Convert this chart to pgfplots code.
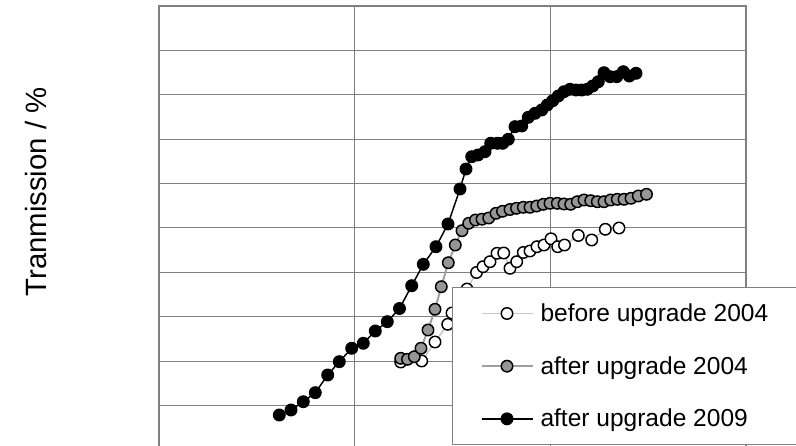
\documentclass[border=0pt]{standalone}
\usepackage{fontspec}
\setmainfont{Liberation Sans}
\usepackage{pgfplots}
\pgfplotsset{compat=1.18}
\definecolor{gridgray}{RGB}{128,128,128}
\definecolor{markgray}{RGB}{150,150,150}
\definecolor{linegray}{RGB}{160,160,160}
\definecolor{lightline}{RGB}{200,200,200}

\begin{document}
\begin{tikzpicture}
\useasboundingbox (0,0) rectangle (597pt,334.5pt);
\begin{axis}[
  at={(119.25pt,-3pt)}, anchor=south west,
  scale only axis, width=440.25pt, height=333pt,
  xmin=0, xmax=587, ymin=0, ymax=100,
  xtick={195.7,391.3}, ytick={10,20,...,90},
  xticklabels={}, yticklabels={},
  tick style={draw=none},
  grid=major, major grid style={gridgray, line width=0.75pt},
  axis line style={gridgray, line width=1.2pt},
  legend style={at={(axis cs:293,36.71)}, anchor=north west, draw=gridgray, line width=0.75pt, fill=white,
    inner xsep=21pt, inner ysep=11pt, column sep=5.25pt, row sep=22.5pt,
    font=\fontsize{18.4}{22}\selectfont,
    nodes={inner sep=0pt, text height=14.5pt, text depth=2.5pt}},
  legend cell align=left,
  legend image code/.code={\draw[mark repeat=2,mark phase=2,#1] plot coordinates {(0pt,0pt) (19.125pt,0pt) (38.25pt,0pt)};},
]
\addplot[color=lightline, line width=1.2pt, mark=*, mark size=4.3pt,
  mark options={draw=black, fill=white, line width=1.1pt, solid}] coordinates {
(241.7,19.82) (262.7,20.05) (276,24.32) (288.7,28.31) (293,30.86) (300.5,33.33) (308,36.26)
(317.5,39.98) (324,41.28) (331,42.41) (338,44.30) (344.7,44.37) (351,40.92) (357.7,42.41)
(364.3,44.48) (371,44.82) (378,45.79) (385,46.17) (392,47.57) (398.7,45.79) (405.5,46.17)
(419.3,48.31) (432.7,47.30) (446.3,49.71) (460,50.00)
};
\addlegendentry{before upgrade 2004}
\addplot[color=linegray, line width=1.5pt, mark=*, mark size=4.3pt,
  mark options={draw=black, fill=markgray, line width=1.1pt, solid}] coordinates {
(241.7,20.65) (248.5,20.43) (255.3,21.01) (262,22.91) (269,27.03) (276,31.69) (282.3,36.78)
(289.3,42.18) (296.3,46.17) (303,49.39) (309.7,51.06) (316.5,51.80) (323,51.98) (329.7,52.25)
(337,53.31) (343.5,53.76) (351,54.17) (357.5,54.44) (364.3,54.66) (371,54.66) (377.7,54.95)
(384.3,55.34) (391,55.56) (398.3,55.56) (405,55.41) (411.7,55.34) (418.3,55.92) (425,56.31)
(431.7,56.15) (438.3,55.92) (445,55.92) (451.7,56.31) (458.3,56.46) (465,56.46) (472,56.69)
(479.3,57.21) (487.5,57.59)
};
\addlegendentry{after upgrade 2004}
\addplot[color=black, line width=1.1pt, mark=*, mark size=4.3pt,
  mark options={draw=black, fill=black, line width=1.1pt, solid}] coordinates {
(120.3,7.88) (132,9.01) (144.3,10.88) (156.3,12.91) (168.7,16.89) (180.3,19.89) (192.7,22.91)
(204.3,24.03) (216.3,26.80) (228.3,28.90) (240.5,31.87) (252.7,37.00) (264.3,41.82) (277,45.79)
(289,50.90) (301,58.78) (307,63.29) (312.7,66.06) (319,66.44) (326,67.19) (331.7,69.08)
(338.3,69.08) (343.7,69.08) (349.3,69.98) (356,72.82) (362.7,72.97) (369.3,74.93) (376,75.83)
(382.7,76.58) (388.3,77.70) (393.7,78.67) (399.3,79.73) (405,80.70) (411,81.24) (417,81.08)
(422.7,81.08) (428.3,81.24) (433.7,81.98) (439.3,82.95) (445,84.98) (451,84.08) (457.7,84.08)
(464.3,85.20) (470.3,84.23) (477,84.84)
};
\addlegendentry{after upgrade 2009}
\end{axis}
\node[rotate=90, font=\fontsize{22}{26}\selectfont] at (27pt,190.5pt) {Tranmission / \%};
\end{tikzpicture}
\end{document}
